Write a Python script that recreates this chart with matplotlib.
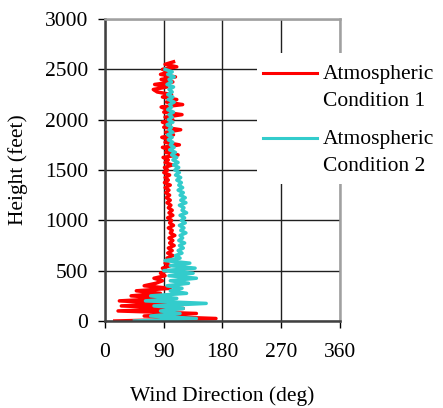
import numpy as np
import matplotlib.pyplot as plt
from matplotlib.patches import Rectangle

plt.rcParams['font.family'] = ['Liberation Serif', 'DejaVu Serif']

# heights (feet), 25 ft steps
height_1 = list(range(0, 2600, 25))
height_2 = list(range(0, 2525, 25))

# wind direction (deg), atmospheric condition 1
dir_1 = [15, 170, 60, 140, 20, 120, 25, 100, 22, 95,
         40, 85, 48, 100, 60, 78, 88, 75, 92, 85,
         95, 88, 100, 92, 98, 95, 104, 96, 103, 97,
         106, 99, 104, 98, 107, 100, 103, 97, 105, 99,
         102, 96, 104, 98, 103, 97, 101, 95, 100, 94,
         99, 93, 98, 92, 100, 91, 97, 92, 99, 90,
         96, 91, 103, 92, 97, 89, 112, 93, 98, 88,
         114, 92, 99, 87, 105, 93, 116, 90, 100, 88,
         104, 92, 118, 90, 97, 86, 119, 94, 110, 88,
         102, 80, 74, 95, 76, 104, 86, 108, 85, 99,
         88, 110, 92, 105]

# wind direction (deg), atmospheric condition 2
dir_2 = [45, 140, 70, 115, 85, 120, 75, 155, 62, 110,
         70, 125, 100, 118, 95, 128, 100, 140, 98, 135,
         90, 138, 100, 130, 92, 115, 108, 118, 112, 120,
         114, 122, 113, 119, 115, 124, 116, 121, 114, 123,
         117, 122, 115, 125, 118, 121, 114, 124, 116, 123,
         115, 120, 112, 119, 113, 117, 110, 116, 108, 114,
         107, 113, 105, 112, 104, 110, 102, 108, 99, 106,
         100, 104, 97, 103, 96, 104, 98, 102, 95, 104,
         97, 103, 98, 105, 96, 102, 99, 106, 97, 104,
         96, 103, 98, 105, 95, 102, 98, 106, 96, 103,
         92]

labels = [['Atmospheric', 'Condition 1'], ['Atmospheric', 'Condition 2']]
colors = ['#ff0000', '#33cccc']

fs = 15.5

fig = plt.figure(figsize=(4.43, 4.08), dpi=100)
ax = fig.add_axes([0.237, 0.2132, 0.5305, 0.7402])

l1, = ax.plot(dir_1, height_1, color=colors[0], linewidth=2.5, zorder=2)
l2, = ax.plot(dir_2, height_2, color=colors[1], linewidth=2.5, zorder=2.1)

ax.set_xlim(0, 360)
ax.set_ylim(0, 3000)
ax.set_xticks([0, 90, 180, 270, 360])
ax.set_yticks(np.arange(0, 3001, 500))
ax.grid(True, color='#202020', linewidth=1)
ax.set_axisbelow(True)

for s in ['left', 'bottom']:
    ax.spines[s].set_color('#404040')
    ax.spines[s].set_linewidth(1.8)
for s in ['top', 'right']:
    ax.spines[s].set_color('#a0a0a0')
    ax.spines[s].set_linewidth(1.8)

ax.tick_params(axis='x', direction='out', length=5, width=1, pad=11, labelsize=fs)
ax.tick_params(axis='y', direction='out', length=5, width=1, pad=7, labelsize=fs)

ax.set_xlabel('Wind Direction (deg)', fontsize=fs, labelpad=17)
ax.set_ylabel('Height (feet)', fontsize=fs, labelpad=12)

# legend area: white box, handle lines and two-line labels
ax.add_patch(Rectangle((0.647, 0.454), 1.0, 0.433, transform=ax.transAxes,
                       facecolor='white', edgecolor='none', clip_on=False, zorder=4))
handle_y = [0.821, 0.606]
for line, hy, lab in zip([l1, l2], handle_y, labels):
    ax.plot([0.672, 0.902], [hy, hy], transform=ax.transAxes, clip_on=False,
            color=line.get_color(), linewidth=2.2, zorder=5)
    ax.text(0.928, hy - 0.02, lab[0], transform=ax.transAxes, fontsize=fs,
            va='baseline', ha='left', zorder=5, clip_on=False)
    ax.text(0.928, hy - 0.02 - 0.0905, lab[1], transform=ax.transAxes, fontsize=fs,
            va='baseline', ha='left', zorder=5, clip_on=False)

fig.savefig('out.png', dpi=100)
